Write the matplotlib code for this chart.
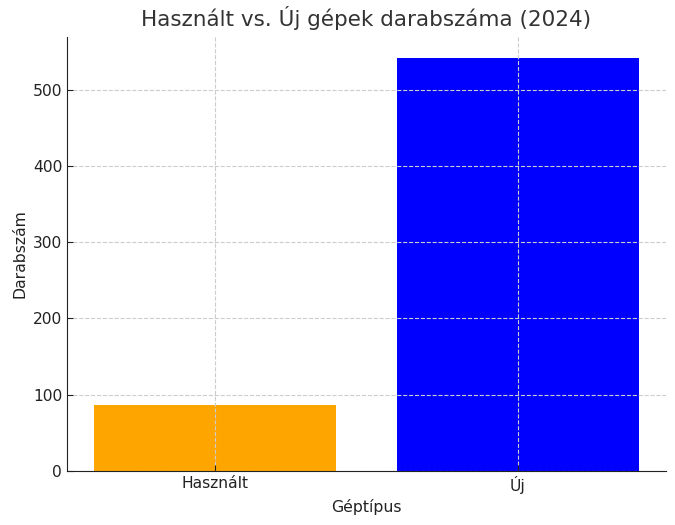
import matplotlib
matplotlib.use('Agg')
import matplotlib.pyplot as plt

# adatok
categories = ['Használt', 'Új']
values = [86.5, 542]
colors = ['orange', 'blue']

fig = plt.figure(figsize=(6.75, 5.25), dpi=100)
ax = fig.add_axes([0.0993, 0.1029, 0.8874, 0.8266])
ax.bar(categories, values, color=colors, width=0.8)

ax.set_title('Használt vs. Új gépek darabszáma (2024)', fontsize=15.5, color='#333333', pad=8)
ax.set_xlabel('Géptípus', fontsize=11.3, color='#222222')
ax.set_ylabel('Darabszám', fontsize=11.3, color='#222222')
ax.tick_params(labelsize=11.2, colors='#222222', direction='in', length=4)
ax.grid(True, linestyle='--', color='#cccccc', linewidth=0.8)
ax.spines['top'].set_visible(False)
ax.spines['right'].set_visible(False)
ax.spines['left'].set_color('#222222')
ax.spines['bottom'].set_color('#222222')

fig.savefig('out.png', dpi=100)
